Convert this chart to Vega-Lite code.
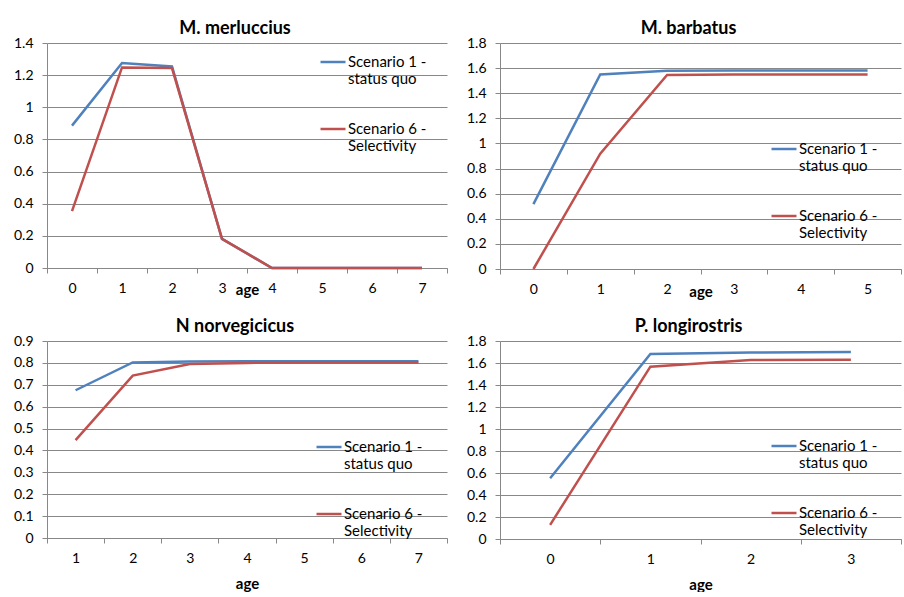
{
  "$schema": "https://vega.github.io/schema/vega-lite/v6.json",
  "background": "white",
  "padding": {"left": 13, "top": 20, "right": 0, "bottom": 0},
  "datasets": {
    "merluccius": [
      {"age": 0, "scenario": "Scenario 1 - status quo", "value": 0.886},
      {"age": 1, "scenario": "Scenario 1 - status quo", "value": 1.275},
      {"age": 2, "scenario": "Scenario 1 - status quo", "value": 1.254},
      {"age": 3, "scenario": "Scenario 1 - status quo", "value": 0.181},
      {"age": 4, "scenario": "Scenario 1 - status quo", "value": 0},
      {"age": 5, "scenario": "Scenario 1 - status quo", "value": 0},
      {"age": 6, "scenario": "Scenario 1 - status quo", "value": 0},
      {"age": 7, "scenario": "Scenario 1 - status quo", "value": 0},
      {"age": 0, "scenario": "Scenario 6 - Selectivity", "value": 0.354},
      {"age": 1, "scenario": "Scenario 6 - Selectivity", "value": 1.248},
      {"age": 2, "scenario": "Scenario 6 - Selectivity", "value": 1.244},
      {"age": 3, "scenario": "Scenario 6 - Selectivity", "value": 0.181},
      {"age": 4, "scenario": "Scenario 6 - Selectivity", "value": 0},
      {"age": 5, "scenario": "Scenario 6 - Selectivity", "value": 0},
      {"age": 6, "scenario": "Scenario 6 - Selectivity", "value": 0},
      {"age": 7, "scenario": "Scenario 6 - Selectivity", "value": 0}
    ],
    "barbatus": [
      {"age": 0, "scenario": "Scenario 1 - status quo", "value": 0.517},
      {"age": 1, "scenario": "Scenario 1 - status quo", "value": 1.549},
      {"age": 2, "scenario": "Scenario 1 - status quo", "value": 1.579},
      {"age": 3, "scenario": "Scenario 1 - status quo", "value": 1.58},
      {"age": 4, "scenario": "Scenario 1 - status quo", "value": 1.58},
      {"age": 5, "scenario": "Scenario 1 - status quo", "value": 1.58},
      {"age": 0, "scenario": "Scenario 6 - Selectivity", "value": 0},
      {"age": 1, "scenario": "Scenario 6 - Selectivity", "value": 0.918},
      {"age": 2, "scenario": "Scenario 6 - Selectivity", "value": 1.545},
      {"age": 3, "scenario": "Scenario 6 - Selectivity", "value": 1.55},
      {"age": 4, "scenario": "Scenario 6 - Selectivity", "value": 1.55},
      {"age": 5, "scenario": "Scenario 6 - Selectivity", "value": 1.55}
    ],
    "norvegicus": [
      {"age": 1, "scenario": "Scenario 1 - status quo", "value": 0.675},
      {"age": 2, "scenario": "Scenario 1 - status quo", "value": 0.802},
      {"age": 3, "scenario": "Scenario 1 - status quo", "value": 0.806},
      {"age": 4, "scenario": "Scenario 1 - status quo", "value": 0.807},
      {"age": 5, "scenario": "Scenario 1 - status quo", "value": 0.807},
      {"age": 6, "scenario": "Scenario 1 - status quo", "value": 0.807},
      {"age": 7, "scenario": "Scenario 1 - status quo", "value": 0.807},
      {"age": 1, "scenario": "Scenario 6 - Selectivity", "value": 0.447},
      {"age": 2, "scenario": "Scenario 6 - Selectivity", "value": 0.742},
      {"age": 3, "scenario": "Scenario 6 - Selectivity", "value": 0.795},
      {"age": 4, "scenario": "Scenario 6 - Selectivity", "value": 0.8},
      {"age": 5, "scenario": "Scenario 6 - Selectivity", "value": 0.802},
      {"age": 6, "scenario": "Scenario 6 - Selectivity", "value": 0.802},
      {"age": 7, "scenario": "Scenario 6 - Selectivity", "value": 0.802}
    ],
    "longirostris": [
      {"age": 0, "scenario": "Scenario 1 - status quo", "value": 0.552},
      {"age": 1, "scenario": "Scenario 1 - status quo", "value": 1.682},
      {"age": 2, "scenario": "Scenario 1 - status quo", "value": 1.696},
      {"age": 3, "scenario": "Scenario 1 - status quo", "value": 1.7},
      {"age": 0, "scenario": "Scenario 6 - Selectivity", "value": 0.129},
      {"age": 1, "scenario": "Scenario 6 - Selectivity", "value": 1.567},
      {"age": 2, "scenario": "Scenario 6 - Selectivity", "value": 1.627},
      {"age": 3, "scenario": "Scenario 6 - Selectivity", "value": 1.63}
    ]
  },
  "config": {
    "view": {"stroke": null},
    "font": "Lato",
    "title": {"font": "Lato", "fontSize": 18, "fontWeight": "bold", "color": "black", "anchor": "middle", "offset": 9, "baseline": "alphabetic", "dx": -12, "dy": 11},
    "axis": {
      "labelFont": "Lato", "labelFontSize": 14, "labelColor": "black",
      "titleFont": "Lato", "titleFontSize": 15, "titleFontWeight": "bold", "titleColor": "black",
      "domainColor": "#888888", "tickColor": "#888888", "gridColor": "#888888",
      "tickSize": 5, "domainWidth": 1, "gridWidth": 1
    },
    "axisX": {"grid": false, "tickBand": "extent", "labelAngle": 0, "labelPadding": 8},
    "axisY": {"grid": true, "labelPadding": 9, "format": ".1~f", "title": null},
    "legend": {
      "orient": "none", "title": null, "symbolType": "stroke", "symbolSize": 625, "symbolStrokeWidth": 2.5,
      "labelFont": "Lato", "labelFontSize": 15, "labelColor": "black", "labelLineHeight": 21,
      "labelOffset": 1, "padding": 0, "rowPadding": 28, "labelLimit": 200
    },
    "line": {"strokeWidth": 2.5}
  },
  "resolve": {"scale": {"color": "independent"}, "legend": {"color": "independent"}},
  "bounds": "flush",
  "columns": 2,
  "spacing": {"column": 53, "row": 72},
  "concat": [
    {
      "title": {"text": "M. merluccius"},
      "width": 400, "height": 225,
      "data": {"name": "merluccius"},
      "mark": {"type": "line"},
      "encoding": {
        "x": {"field": "age", "type": "ordinal", "scale": {"type": "band", "paddingInner": 0, "paddingOuter": 0}, "axis": {"title": "age", "titleY": 26, "titleBaseline": "alphabetic"}},
        "y": {"field": "value", "type": "quantitative", "scale": {"domain": [0, 1.4], "nice": false}, "axis": {"values": [0, 0.2, 0.4, 0.6, 0.8, 1, 1.2, 1.4]}},
        "color": {"field": "scenario", "type": "nominal", "scale": {"domain": ["Scenario 1 - status quo", "Scenario 6 - Selectivity"], "range": ["#4F81BD", "#C0504D"]}, "legend": {"legendX": 272, "legendY": 5, "labelExpr": "[slice(datum.label, 0, 12), slice(datum.label, 13)]"}}
      }
    },
    {
      "title": {"text": "M. barbatus"},
      "width": 401, "height": 226,
      "data": {"name": "barbatus"},
      "mark": {"type": "line"},
      "encoding": {
        "x": {"field": "age", "type": "ordinal", "scale": {"type": "band", "paddingInner": 0, "paddingOuter": 0}, "axis": {"title": "age", "titleY": 27, "titleBaseline": "alphabetic"}},
        "y": {"field": "value", "type": "quantitative", "scale": {"domain": [0, 1.8], "nice": false}, "axis": {"values": [0, 0.2, 0.4, 0.6, 0.8, 1, 1.2, 1.4, 1.6, 1.8]}},
        "color": {"field": "scenario", "type": "nominal", "scale": {"domain": ["Scenario 1 - status quo", "Scenario 6 - Selectivity"], "range": ["#4F81BD", "#C0504D"]}, "legend": {"legendX": 270, "legendY": 92, "labelExpr": "[slice(datum.label, 0, 12), slice(datum.label, 13)]"}}
      }
    },
    {
      "title": {"text": "N norvegicicus"},
      "width": 400, "height": 197,
      "data": {"name": "norvegicus"},
      "mark": {"type": "line"},
      "encoding": {
        "x": {"field": "age", "type": "ordinal", "scale": {"type": "band", "paddingInner": 0, "paddingOuter": 0}, "axis": {"title": "age", "titleY": 50, "titleBaseline": "alphabetic"}},
        "y": {"field": "value", "type": "quantitative", "scale": {"domain": [0, 0.9], "nice": false}, "axis": {"values": [0, 0.1, 0.2, 0.3, 0.4, 0.5, 0.6, 0.7, 0.8, 0.9]}},
        "color": {"field": "scenario", "type": "nominal", "scale": {"domain": ["Scenario 1 - status quo", "Scenario 6 - Selectivity"], "range": ["#4F81BD", "#C0504D"]}, "legend": {"legendX": 268, "legendY": 92, "labelExpr": "[slice(datum.label, 0, 12), slice(datum.label, 13)]"}}
      }
    },
    {
      "title": {"text": "P. longirostris"},
      "width": 401, "height": 198,
      "data": {"name": "longirostris"},
      "mark": {"type": "line"},
      "encoding": {
        "x": {"field": "age", "type": "ordinal", "scale": {"type": "band", "paddingInner": 0, "paddingOuter": 0}, "axis": {"title": "age", "titleY": 50, "titleBaseline": "alphabetic"}},
        "y": {"field": "value", "type": "quantitative", "scale": {"domain": [0, 1.8], "nice": false}, "axis": {"values": [0, 0.2, 0.4, 0.6, 0.8, 1, 1.2, 1.4, 1.6, 1.8]}},
        "color": {"field": "scenario", "type": "nominal", "scale": {"domain": ["Scenario 1 - status quo", "Scenario 6 - Selectivity"], "range": ["#4F81BD", "#C0504D"]}, "legend": {"legendX": 270, "legendY": 91, "labelExpr": "[slice(datum.label, 0, 12), slice(datum.label, 13)]"}}
      }
    }
  ]
}
